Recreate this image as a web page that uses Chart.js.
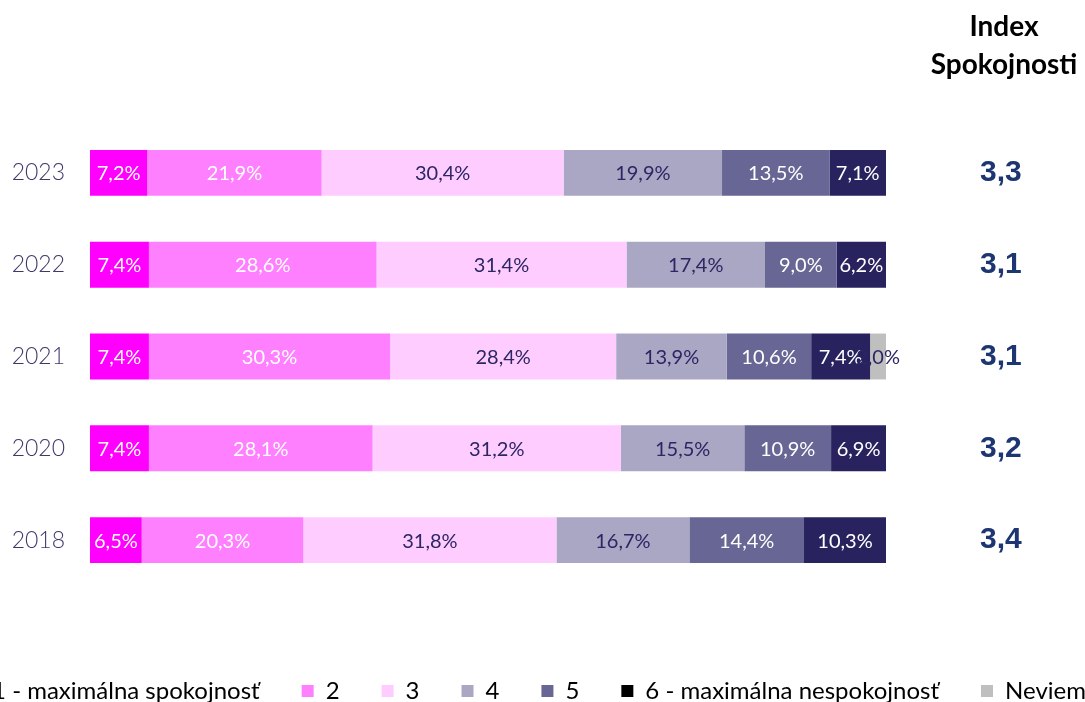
<!DOCTYPE html>
<html>
<head>
<meta charset="utf-8">
<title>Index Spokojnosti</title>
<script src="https://cdn.jsdelivr.net/npm/chart.js@4.4.1/dist/chart.umd.min.js"></script>
<style>
    html, body { margin: 0; padding: 0; background: #fff; overflow: hidden; }
    body { width: 1085px; height: 702px; position: relative; }
    #satisfaction { position: absolute; left: -123px; top: 0; }
</style>
</head>
<body>
<canvas id="satisfaction" width="1300" height="713"></canvas>
<script>
//Data
const years = ['2023', '2022', '2021', '2020', '2018'];
const indexValues = ['3,3', '3,1', '3,1', '3,2', '3,4'];
const seriesNames = ['1 - maximálna spokojnosť', '2', '3', '4', '5', '6 - maximálna nespokojnosť', 'Neviem'];
const score1 = [7.2, 7.4, 7.4, 7.4, 6.5];
const score2 = [21.9, 28.6, 30.3, 28.1, 20.3];
const score3 = [30.4, 31.4, 28.4, 31.2, 31.8];
const score4 = [19.9, 17.4, 13.9, 15.5, 16.7];
const score5 = [13.5, 9.0, 10.6, 10.9, 14.4];
const score6 = [7.1, 6.2, 7.4, 6.9, 10.3];
const dontKnow = [0, 0, 2.0, 0, 0];

//Colors
const barColors = ['#FF00FF', '#FF80FF', '#FFCCFF', '#A9A7C3', '#676694', '#28235F', '#BFBFBF'];
const legendColors = ['#FF00FF', '#FF80FF', '#FFCCFF', '#A9A7C3', '#676694', '#000000', '#BFBFBF'];
const labelColors = ['#FFFFFF', '#FFFFFF', '#2B2664', '#2B2664', '#FFFFFF', '#FFFFFF', '#2B2664'];

const allSeries = [score1, score2, score3, score4, score5, score6, dontKnow];

//Percent labels in the middle of each segment
const barLabels = {
    id: 'barLabels',
    afterDatasetsDraw(chart) {
        const ctx = chart.ctx;
        ctx.save();
        ctx.font = '20px Lato';
        ctx.textAlign = 'center';
        ctx.textBaseline = 'middle';
        chart.data.datasets.forEach((ds, i) => {
            chart.getDatasetMeta(i).data.forEach((bar, j) => {
                const v = ds.data[j];
                if (!v) return;
                ctx.fillStyle = labelColors[i];
                ctx.fillText(v.toFixed(1).replace('.', ',') + '%', (bar.x + bar.base) / 2, bar.y + 1);
            });
        });
        ctx.restore();
    }
};

//Header over the index column
const indexHeader = {
    id: 'indexHeader',
    afterDraw(chart) {
        const ctx = chart.ctx;
        const x = chart.scales.yIdx.left + 118;
        ctx.save();
        ctx.font = 'bold 28px Lato';
        ctx.fillStyle = '#000000';
        ctx.textAlign = 'center';
        ctx.textBaseline = 'middle';
        ctx.fillText('Index', x, 27);
        ctx.fillText('Spokojnosti', x, 65);
        ctx.restore();
    }
};

const satisfaction = document.getElementById('satisfaction');
const satisfactionChart = new Chart(satisfaction, {
    type: 'bar',
    data: {
        labels: years,
        datasets: allSeries.map((values, i) => ({
            label: seriesNames[i],
            data: values,
            backgroundColor: barColors[i],
            borderWidth: 0,
            barPercentage: 1,
            categoryPercentage: 0.5,
        }))
    },
    options: {
        indexAxis: 'y',
        responsive: false,
        animation: false,
        layout: { padding: { top: 127, left: 0, right: 0, bottom: 0 } },
        scales: {
            x: {
                stacked: true,
                min: 0,
                max: 100,
                grid: { display: false, drawTicks: false },
                border: { display: false },
                ticks: { display: false },
                afterFit(scale) { scale.height = 51; },
            },
            y: {
                stacked: true,
                grid: { display: false, drawTicks: false },
                border: { display: false },
                ticks: {
                    padding: 25,
                    color: '#3D3A6B',
                    font: { family: 'Lato', size: 23, weight: '300' },
                },
                afterFit(scale) { scale.width = 213; },
            },
            yIdx: {
                type: 'category',
                axis: 'y',
                position: 'right',
                labels: indexValues,
                offset: true,
                grid: { display: false, drawTicks: false },
                border: { display: false },
                ticks: {
                    padding: 94,
                    color: '#1D3570',
                    font: { family: 'Liberation Sans', size: 30, weight: 'bold' },
                },
                afterFit(scale) { scale.width = 291; },
            },
        },
        plugins: {
            tooltip: { enabled: false },
            legend: {
                position: 'bottom',
                labels: {
                    boxWidth: 12,
                    boxHeight: 12,
                    padding: 42,
                    color: '#404040',
                    font: { family: 'Lato', size: 24 },
                    generateLabels: chart => chart.data.datasets.map((ds, i) => ({
                        text: ds.label,
                        fillStyle: legendColors[i],
                        strokeStyle: legendColors[i],
                        lineWidth: 0,
                        hidden: false,
                        datasetIndex: i,
                    })),
                },
            },
        },
    },
    plugins: [barLabels, indexHeader],
});
</script>
</body>
</html>
